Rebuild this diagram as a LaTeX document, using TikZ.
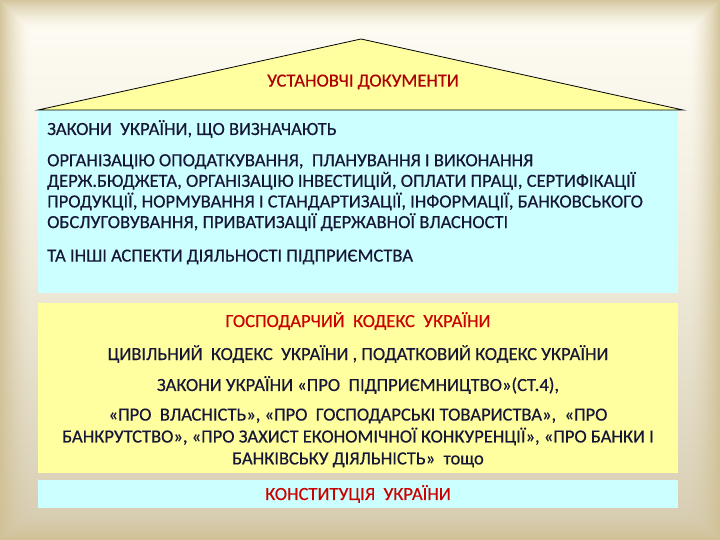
\documentclass[tikz,border=0pt]{standalone}
\usepackage{fontspec}
\setmainfont{Carlito}
\newfontfamily\slidefont{Carlito}[FakeBold=0.4]
\definecolor{framebeige}{RGB}{208,192,148}
\definecolor{floortan}{RGB}{214,204,176}
\definecolor{topcream}{RGB}{255,253,245}
\definecolor{paleyellow}{RGB}{255,255,160}
\definecolor{palecyan}{RGB}{204,255,255}
\definecolor{textnavy}{RGB}{22,22,55}
\definecolor{titlered}{RGB}{205,0,0}

\tikzset{
  body/.style={font=\slidefont\fontsize{18.6}{20.7}\selectfont, text=textnavy, inner sep=0pt},
  title/.style={font=\slidefont\fontsize{18.6}{20.7}\selectfont, text=titlered, inner sep=0pt},
}

\begin{document}
\begin{tikzpicture}[x=1bp,y=-1bp]
	\useasboundingbox (0,0) rectangle (720,540);
	% background with shaded frame
	\shade[top color=topcream, bottom color=floortan, middle color=topcream!60!floortan]
		(0,0) rectangle (720,540);
	\foreach \i in {0,...,29} {
		\pgfmathsetmacro{\op}{0.9*(1-\i/30)^1.5}
		\draw[framebeige, line width=1.05bp, opacity=\op] (\i+0.5,\i+0.5) rectangle (719.5-\i,539.5-\i);
	}
	%
	\coordinate (roofleft) at (38,110);
	\coordinate (roofright) at (683,110);
	\coordinate (roofapex) at (361,39);
	\fill[paleyellow] (roofleft) -- (roofapex) -- (roofright) -- cycle;
	\fill[palecyan] (38,110) rectangle (678,293);
	\fill[paleyellow] (38,303) rectangle (678,473);
	\fill[palecyan] (38,480) rectangle (678,508);
	\draw[line width=0.8pt] (roofleft) -- (roofapex) -- (roofright) -- cycle;
	%
	\node[title, text=titlered!85!black] (roof) at (363,82) {УСТАНОВЧІ ДОКУМЕНТИ};
	\node[body, anchor=west] (laws) at (47,129) {ЗАКОНИ\ \ УКРАЇНИ, ЩО ВИЗНАЧАЮТЬ};
	\node[body, anchor=north west, align=left] (areas) at (47,154) {ОРГАНІЗАЦІЮ ОПОДАТКУВАННЯ,\ \ ПЛАНУВАННЯ І ВИКОНАННЯ\\
		ДЕРЖ.БЮДЖЕТА, ОРГАНІЗАЦІЮ ІНВЕСТИЦІЙ, ОПЛАТИ ПРАЦІ, СЕРТИФІКАЦІЇ\\
		ПРОДУКЦІЇ, НОРМУВАННЯ І СТАНДАРТИЗАЦІЇ, ІНФОРМАЦІЇ, БАНКОВСЬКОГО\\
		ОБСЛУГОВУВАННЯ, ПРИВАТИЗАЦІЇ ДЕРЖАВНОЇ ВЛАСНОСТІ};
	\node[body, anchor=west] (other) at (47,257) {ТА ІНШІ АСПЕКТИ ДІЯЛЬНОСТІ ПІДПРИЄМСТВА};
	%
	\node[title] (econ) at (358,321) {ГОСПОДАРЧИЙ\ \ КОДЕКС\ \ УКРАЇНИ};
	\node[body] (civil) at (358,354) {ЦИВІЛЬНИЙ\ \ КОДЕКС\ \ УКРАЇНИ , ПОДАТКОВИЙ КОДЕКС УКРАЇНИ};
	\node[body] (enterp) at (358,385) {ЗАКОНИ УКРАЇНИ «ПРО\ \ ПІДПРИЄМНИЦТВО»(СТ.4),};
	\node[body, align=center, font=\slidefont\fontsize{18.6}{22}\selectfont] (more) at (358,438) {«ПРО\ \ ВЛАСНІСТЬ», «ПРО\ \ ГОСПОДАРСЬКІ ТОВАРИСТВА»,\ \ «ПРО\\
		БАНКРУТСТВО», «ПРО ЗАХИСТ ЕКОНОМІЧНОЇ КОНКУРЕНЦІЇ», «ПРО БАНКИ І\\
		БАНКІВСЬКУ ДІЯЛЬНІСТЬ»\ \ тощо};
	%
	\node[title] (const) at (358,494) {КОНСТИТУЦІЯ\ \ УКРАЇНИ};
\end{tikzpicture}
\end{document}
